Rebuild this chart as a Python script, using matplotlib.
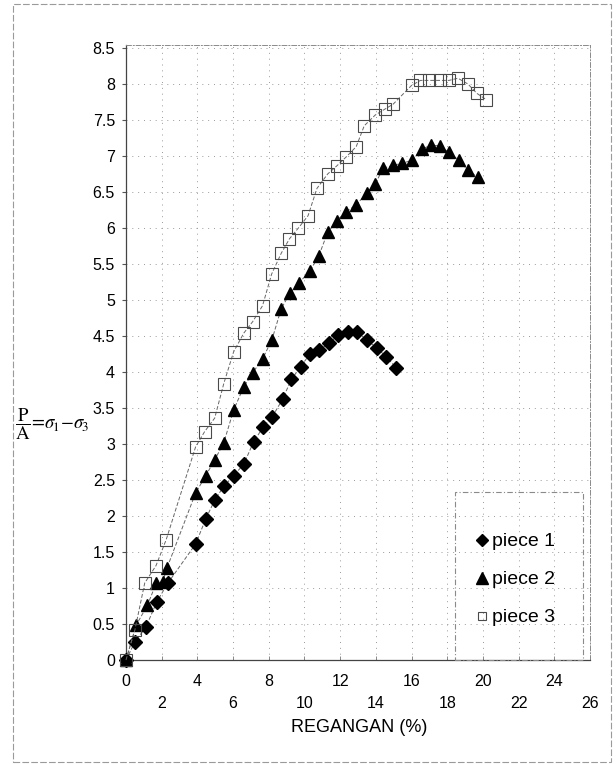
import matplotlib
matplotlib.use("Agg")
import matplotlib.pyplot as plt
from matplotlib.patches import Rectangle
from matplotlib.lines import Line2D

plt.rcParams['font.family'] = ['Liberation Sans', 'DejaVu Sans']
plt.rcParams['mathtext.fontset'] = 'stix'

# strain (%) and stress ratio for the three specimens
piece1_x = [0, 0.5, 1.12, 1.73, 2.35, 3.9, 4.47, 4.97, 5.47, 6.03, 6.6, 7.15, 7.7,
            8.2, 8.77, 9.27, 9.78, 10.3, 10.8, 11.4, 11.9, 12.45, 12.96, 13.5,
            14.08, 14.58, 15.14]
piece1_y = [0, 0.25, 0.46, 0.81, 1.07, 1.61, 1.96, 2.22, 2.41, 2.56, 2.72, 3.03, 3.24,
            3.38, 3.62, 3.9, 4.07, 4.25, 4.3, 4.4, 4.52, 4.56, 4.56, 4.44,
            4.33, 4.21, 4.06]

piece2_x = [0, 0.56, 1.2, 1.7, 2.05, 2.3, 3.9, 4.47, 4.97, 5.47, 6.03, 6.59, 7.1,
            7.65, 8.18, 8.7, 9.2, 9.7, 10.3, 10.8, 11.3, 11.8, 12.3, 12.9, 13.5,
            13.97, 14.4, 14.97, 15.47, 16.03, 16.6, 17.1, 17.6, 18.1, 18.66,
            19.16, 19.7]
piece2_y = [0, 0.48, 0.76, 1.07, 1.08, 1.28, 2.32, 2.56, 2.78, 3.01, 3.47, 3.79, 3.99,
            4.18, 4.45, 4.88, 5.1, 5.24, 5.4, 5.61, 5.94, 6.1, 6.22, 6.32, 6.49,
            6.61, 6.83, 6.87, 6.9, 6.94, 7.1, 7.15, 7.14, 7.05, 6.94,
            6.8, 6.71]

piece3_x = [0, 0.5, 1.05, 1.68, 2.25, 3.9, 4.4, 4.97, 5.48, 6.03, 6.6, 7.1, 7.65,
            8.16, 8.7, 9.16, 9.66, 10.2, 10.7, 11.3, 11.8, 12.35, 12.9, 13.35,
            13.97, 14.5, 14.97, 16.0, 16.5, 17.0, 17.6, 18.1, 18.6, 19.16,
            19.66, 20.2]
piece3_y = [0, 0.42, 1.07, 1.31, 1.67, 2.96, 3.17, 3.36, 3.84, 4.28, 4.54, 4.7, 4.92,
            5.36, 5.65, 5.85, 6.0, 6.17, 6.55, 6.75, 6.86, 6.99, 7.13, 7.42,
            7.57, 7.65, 7.72, 7.98, 8.05, 8.05, 8.05, 8.05, 8.08, 8.0,
            7.87, 7.78]

series_labels = ['piece 1', 'piece 2', 'piece 3']
x_ticks = list(range(0, 27, 2))
y_ticks = [i * 0.5 for i in range(0, 18)]

W, H = 616, 764
fig = plt.figure(figsize=(W / 100, H / 100), dpi=100)
fig.patch.set_facecolor('white')

# axes placement in pixels
left, right, bottom, top = 126, 590, 660, 45
ax = fig.add_axes([left / W, (H - bottom) / H, (right - left) / W, (bottom - top) / H])
ax.set_xlim(0, 26)
ax.set_ylim(0, (bottom - top) / 72.0)

ax.set_xticks(x_ticks)
ax.set_yticks(y_ticks)
ax.set_yticklabels([('%g' % v) for v in y_ticks])
ax.set_xticklabels([])
ax.tick_params(axis='y', direction='out', length=3, width=0.8, pad=5,
               labelsize=11.5, color='#555555')
ax.tick_params(axis='x', direction='in', length=3, width=0.6, color='#777777')

ax.grid(True, color='#9a9a9a', linestyle=(0, (1, 5)), linewidth=0.7)
ax.set_axisbelow(True)

for s in ['left', 'bottom']:
    ax.spines[s].set_color('#444444')
    ax.spines[s].set_linewidth(0.9)
for s in ['top', 'right']:
    ax.spines[s].set_color('#8a8a8a')
    ax.spines[s].set_linewidth(0.7)
    ax.spines[s].set_linestyle((0, (5, 2, 1, 2)))

line_kw = dict(color='#666666', linewidth=0.7, linestyle=(0, (4, 2)), clip_on=False)
ax.plot(piece1_x, piece1_y, marker='D', markersize=6.8, markerfacecolor='black',
        markeredgecolor='black', label=series_labels[0], zorder=3, **line_kw)
ax.plot(piece2_x, piece2_y, marker='^', markersize=8.5, markerfacecolor='black',
        markeredgecolor='black', label=series_labels[1], zorder=3, **line_kw)
ax.plot(piece3_x, piece3_y, marker='s', markersize=8.5, markerfacecolor='none',
        markeredgecolor='#4a4a4a', markeredgewidth=0.8, label=series_labels[2],
        zorder=4, **line_kw)

# staggered x tick labels
for i, v in enumerate(x_ticks):
    off = -21 if i % 2 == 0 else -43
    ax.annotate(str(v), xy=(v, 0), xycoords='data', xytext=(0, off * 0.72),
                textcoords='offset points', ha='center', va='center',
                fontsize=11.5, annotation_clip=False)

fig.text(359 / W, (H - 727) / H, 'REGANGAN (%)', ha='center', va='center',
         fontsize=13)

# vertical axis title: P/A = sigma1 - sigma3
fig.text(15 / W, (H - 424) / H,
         r'$\dfrac{\mathrm{P}}{\mathrm{A}}\!=\!\sigma_{\!1}\!-\!\sigma_{\!3}$',
         ha='left', va='center', fontsize=13.5, zorder=10)

# legend frame and entries
fig.patches.append(Rectangle((455 / W, (H - 660) / H), 128 / W, 168 / H,
                             transform=fig.transFigure, fill=False,
                             edgecolor='#8a8a8a', linewidth=0.8,
                             linestyle=(0, (5, 2, 1, 2))))
handles = [
    Line2D([], [], linestyle='none', marker='D', markersize=6.5,
           markerfacecolor='black', markeredgecolor='black'),
    Line2D([], [], linestyle='none', marker='^', markersize=8.5,
           markerfacecolor='black', markeredgecolor='black'),
    Line2D([], [], linestyle='none', marker='s', markersize=6,
           markerfacecolor='none', markeredgecolor='#4a4a4a', markeredgewidth=0.8),
]
fig.legend(handles, series_labels, loc='upper left',
           bbox_to_anchor=(464 / W, (H - 523) / H), frameon=False,
           fontsize=14, borderpad=0, labelspacing=1.05, handlelength=0.8,
           handletextpad=0.15)

# outer border of the chart area
fig.patches.append(Rectangle((13 / W, 2 / H), 598 / W, 758 / H,
                             transform=fig.transFigure, fill=False,
                             edgecolor='#9a9a9a', linewidth=0.8,
                             linestyle=(0, (6, 2))))

fig.savefig('out.png', dpi=100)
